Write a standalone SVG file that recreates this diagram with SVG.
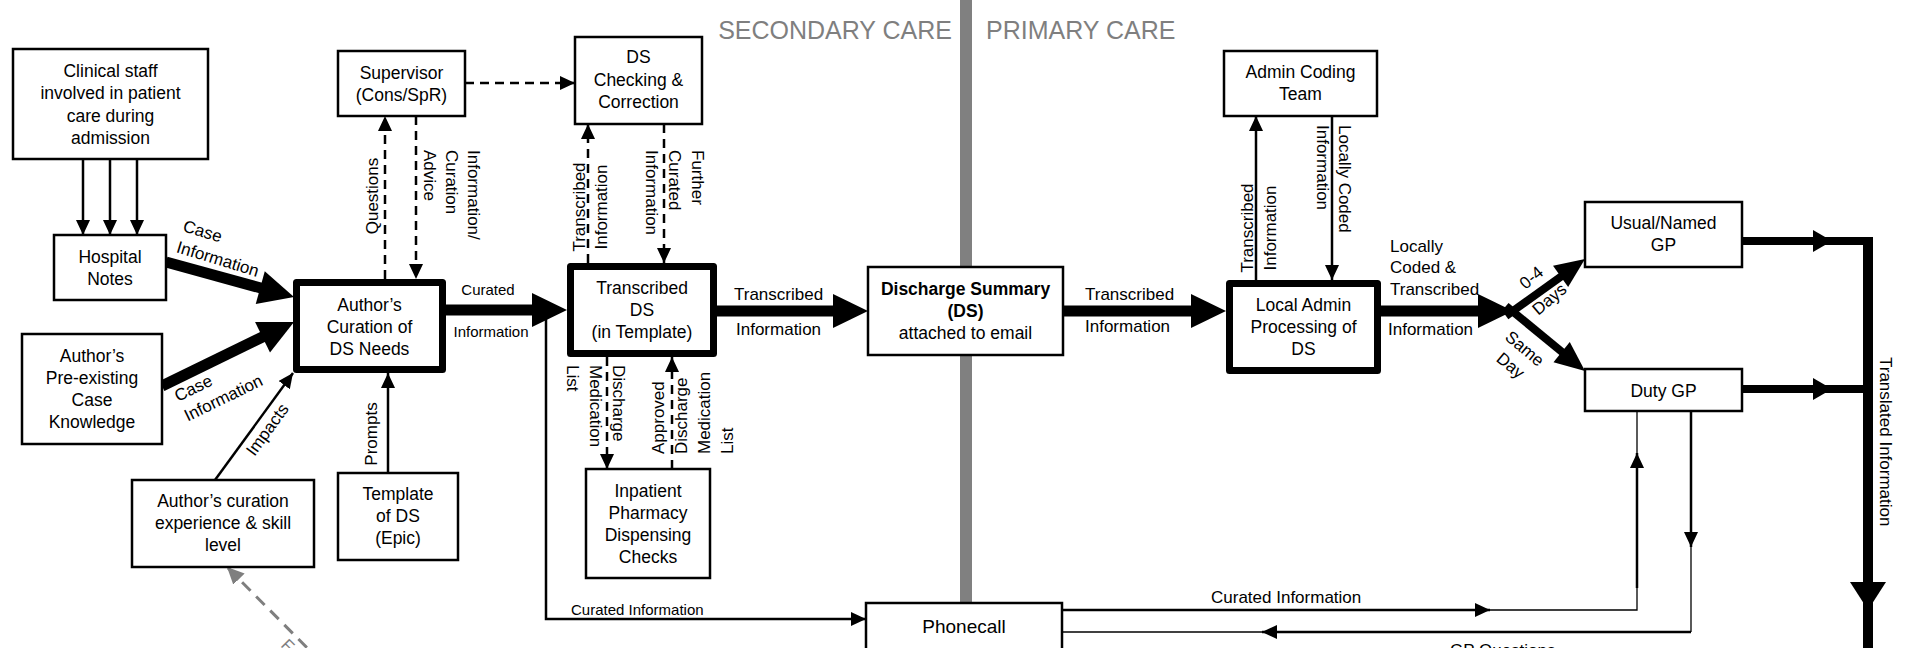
<svg xmlns="http://www.w3.org/2000/svg" xmlns:xlink="http://www.w3.org/1999/xlink" width="1921" height="648" viewBox="0 0 1921 648">
<style>
text{font-family:"Liberation Sans",Arial,sans-serif;fill:#000}
.box{fill:#fff;stroke:#000;stroke-width:2.5}
.tbox{fill:#fff;stroke:#000;stroke-width:7;stroke-linejoin:round}
.t{font-size:17.5px;text-anchor:middle}
.lbl{font-size:17px}
.mid{text-anchor:middle}
.sm{font-size:15px}
.thin{stroke:#000;stroke-width:2.5;fill:none}
.hair{stroke:#000;stroke-width:1.3;fill:none}
.dash{stroke:#000;stroke-width:2.5;fill:none;stroke-dasharray:9 6}
.thick{stroke:#000;stroke-width:11;fill:none}
.med{stroke:#000;stroke-width:8;fill:none}
.title{font-size:25px;fill:#7f7f7f}
</style>
<defs>
<marker id="ah" markerUnits="userSpaceOnUse" markerWidth="16" markerHeight="14" refX="15" refY="7" orient="auto"><path d="M0,0 L15,7 L0,14 Z" fill="#000"/></marker>
<marker id="ahg" markerUnits="userSpaceOnUse" markerWidth="18" markerHeight="16" refX="17" refY="8" orient="auto"><path d="M0,0 L17,8 L0,16 Z" fill="#7f7f7f"/></marker>
<path id="big" d="M0,0 L-35,-17 L-35,17 Z"/>
<path id="medh" d="M0,0 L-30,-13 L-30,13 Z"/>
<path id="smh" d="M0,0 L-19,-11 L-19,11 Z"/>
<path id="dnh" d="M0,0 L-28,-18 L-28,18 Z"/>
</defs>

<g id="divider">
<rect x="960" y="0" width="12" height="267" fill="#808080"/>
<rect x="960" y="355" width="12" height="248" fill="#808080"/>
<text class="title" x="952" y="39" text-anchor="end">SECONDARY CARE</text>
<text class="title" x="986" y="39">PRIMARY CARE</text>
</g>

<g id="connectors">
<line class="thin" x1="83" y1="159" x2="83" y2="235" marker-end="url(#ah)"/>
<line class="thin" x1="110" y1="159" x2="110" y2="235" marker-end="url(#ah)"/>
<line class="thin" x1="137" y1="159" x2="137" y2="235" marker-end="url(#ah)"/>

<line class="thick" x1="166" y1="262" x2="279" y2="293"/>
<use xlink:href="#big" transform="translate(294,297) rotate(15.4)"/>
<g transform="translate(182,231) rotate(17)"><text class="lbl"><tspan x="0" y="0">Case</tspan><tspan x="0" y="22">Information</tspan></text></g>

<line class="thick" x1="162" y1="386" x2="280" y2="328.5"/>
<use xlink:href="#big" transform="translate(294,322) rotate(-26)"/>
<g transform="translate(178,402) rotate(-26)"><text class="lbl"><tspan x="0" y="0">Case</tspan><tspan x="0" y="22">Information</tspan></text></g>

<line class="thin" x1="215" y1="480" x2="293" y2="373" stroke-width="2" marker-end="url(#ah)"/>
<g transform="translate(272,433) rotate(-54)"><text class="lbl mid" x="0" y="0">Impacts</text></g>

<line class="thin" x1="388" y1="473" x2="388" y2="373" marker-end="url(#ah)"/>
<g transform="translate(377,434) rotate(-90)"><text class="lbl mid" x="0" y="0">Prompts</text></g>

<line x1="335" y1="676" x2="227" y2="567" stroke="#7f7f7f" stroke-width="3" stroke-dasharray="12 8" marker-end="url(#ahg)"/>
<g transform="translate(280,646) rotate(45)"><text class="lbl" x="0" y="0" style="fill:#7f7f7f">Fo</text></g>

<line class="dash" x1="385" y1="279" x2="385" y2="116" marker-end="url(#ah)"/>
<g transform="translate(378,196) rotate(-90)"><text class="lbl mid" x="0" y="0">Questions</text></g>
<line class="dash" x1="416" y1="116" x2="416" y2="279" marker-end="url(#ah)"/>
<g transform="translate(468,150) rotate(90)"><text class="lbl"><tspan x="0" y="0">Information/</tspan><tspan x="0" y="22">Curation</tspan><tspan x="0" y="44">Advice</tspan></text></g>
<line class="dash" x1="465" y1="83" x2="575" y2="83" marker-end="url(#ah)"/>

<line class="thick" x1="446" y1="310" x2="552" y2="310"/>
<use xlink:href="#big" transform="translate(567,310)"/>
<text class="sm mid" x="488" y="295">Curated</text>
<text class="sm mid" x="491" y="337">Information</text>

<path class="thin" d="M546,316 V619 H866" stroke-width="1.6" marker-end="url(#ah)"/>
<text class="sm" x="571" y="615">Curated Information</text>

<line class="dash" x1="588" y1="263" x2="588" y2="124" marker-end="url(#ah)"/>
<g transform="translate(585,207) rotate(-90)"><text class="lbl mid"><tspan x="0" y="0">Transcribed</tspan><tspan x="0" y="22">Information</tspan></text></g>
<line class="dash" x1="664" y1="124" x2="664" y2="263" marker-end="url(#ah)"/>
<g transform="translate(692,150) rotate(90)"><text class="lbl"><tspan x="0" y="0">Further</tspan><tspan x="0" y="23">Curated</tspan><tspan x="0" y="46">Information</tspan></text></g>

<line class="dash" x1="607" y1="357" x2="607" y2="469" marker-end="url(#ah)"/>
<g transform="translate(613,365) rotate(90)"><text class="lbl"><tspan x="0" y="0">Discharge</tspan><tspan x="0" y="23">Medication</tspan><tspan x="0" y="46">List</tspan></text></g>
<line class="dash" x1="672" y1="469" x2="672" y2="357" marker-end="url(#ah)"/>
<g transform="translate(664,454) rotate(-90)"><text class="lbl"><tspan x="0" y="0">Approved</tspan><tspan x="0" y="23">Discharge</tspan><tspan x="0" y="46">Medication</tspan><tspan x="0" y="69">List</tspan></text></g>

<line class="thick" x1="717" y1="311" x2="853" y2="311"/>
<use xlink:href="#big" transform="translate(868,311)"/>
<text class="lbl" x="734" y="300">Transcribed</text>
<text class="lbl" x="736" y="335">Information</text>

<line class="thick" x1="1063" y1="311" x2="1211" y2="311"/>
<use xlink:href="#big" transform="translate(1226,311)"/>
<text class="lbl" x="1085" y="300">Transcribed</text>
<text class="lbl" x="1085" y="332">Information</text>

<line class="thin" x1="1256" y1="280" x2="1256" y2="116" marker-end="url(#ah)"/>
<g transform="translate(1253,228) rotate(-90)"><text class="lbl mid"><tspan x="0" y="0">Transcribed</tspan><tspan x="0" y="23">Information</tspan></text></g>
<line class="thin" x1="1332" y1="116" x2="1332" y2="280" marker-end="url(#ah)"/>
<g transform="translate(1339,125) rotate(90)"><text class="lbl"><tspan x="0" y="0">Locally Coded</tspan><tspan x="0" y="22">Information</tspan></text></g>

<line class="thick" x1="1381" y1="311" x2="1498" y2="311"/>
<use xlink:href="#big" transform="translate(1513,311)"/>
<text class="lbl"><tspan x="1390" y="252">Locally</tspan><tspan x="1390" y="273">Coded &amp;</tspan><tspan x="1390" y="295">Transcribed</tspan></text>
<text class="lbl" x="1388" y="335">Information</text>

<line class="med" x1="1506" y1="316" x2="1573" y2="268"/>
<use xlink:href="#medh" transform="translate(1585,259) rotate(-35.5)"/>
<g transform="translate(1535,282) rotate(-40)"><text class="lbl mid"><tspan x="0" y="0">0-4</tspan><tspan x="0" y="28">Days</tspan></text></g>
<line class="med" x1="1506" y1="306" x2="1573" y2="361"/>
<use xlink:href="#medh" transform="translate(1585,371) rotate(38.8)"/>
<g transform="translate(1521,353) rotate(40)"><text class="lbl mid"><tspan x="0" y="0">Same</tspan><tspan x="0" y="22">Day</tspan></text></g>

<line class="med" x1="1742" y1="241" x2="1873" y2="241"/>
<use xlink:href="#smh" transform="translate(1832,241)"/>
<line class="med" x1="1742" y1="389" x2="1868" y2="389"/>
<use xlink:href="#smh" transform="translate(1832,389)"/>
<line x1="1868" y1="237" x2="1868" y2="648" stroke="#000" stroke-width="10"/>
<use xlink:href="#dnh" transform="translate(1868,610) rotate(90)"/>
<g transform="translate(1880,357) rotate(90)"><text class="lbl" x="0" y="0">Translated Information</text></g>

<line class="thin" x1="1062" y1="610" x2="1490" y2="610" stroke-width="2" marker-end="url(#ah)"/>
<path class="hair" d="M1490,610 H1637 V588"/>
<line class="thin" x1="1637" y1="588" x2="1637" y2="453" stroke-width="2" marker-end="url(#ah)"/>
<line class="hair" x1="1637" y1="453" x2="1637" y2="411"/>
<text class="lbl" x="1211" y="603">Curated Information</text>

<line class="thin" x1="1691" y1="411" x2="1691" y2="547" stroke-width="2" marker-end="url(#ah)"/>
<path class="hair" d="M1691,547 V632"/>
<line class="thin" x1="1691" y1="632" x2="1262" y2="632" stroke-width="2" marker-end="url(#ah)"/>
<line class="hair" x1="1262" y1="632" x2="1062" y2="632"/>
<text class="lbl" x="1450" y="656">GP Questions</text>
</g>

<g id="n-clinical"><rect class="box" x="13" y="49" width="195" height="110"/><text class="t"><tspan x="110.5" y="77">Clinical staff</tspan><tspan x="110.5" y="99">involved in patient</tspan><tspan x="110.5" y="122">care during</tspan><tspan x="110.5" y="144">admission</tspan></text></g>
<g id="n-hospital"><rect class="box" x="54" y="235" width="112" height="65"/><text class="t"><tspan x="110" y="263">Hospital</tspan><tspan x="110" y="285">Notes</tspan></text></g>
<g id="n-preexisting"><rect class="box" x="22" y="334" width="140" height="110"/><text class="t"><tspan x="92" y="362">Author’s</tspan><tspan x="92" y="384">Pre-existing</tspan><tspan x="92" y="406">Case</tspan><tspan x="92" y="428">Knowledge</tspan></text></g>
<g id="n-experience"><rect class="box" x="132" y="480" width="182" height="87"/><text class="t"><tspan x="223" y="507">Author’s curation</tspan><tspan x="223" y="529">experience &amp; skill</tspan><tspan x="223" y="551">level</tspan></text></g>
<g id="n-template"><rect class="box" x="338" y="473" width="120" height="87"/><text class="t"><tspan x="398" y="500">Template</tspan><tspan x="398" y="522">of DS</tspan><tspan x="398" y="544">(Epic)</tspan></text></g>
<g id="n-supervisor"><rect class="box" x="338" y="51" width="127" height="65"/><text class="t"><tspan x="401.5" y="79">Supervisor</tspan><tspan x="401.5" y="101">(Cons/SpR)</tspan></text></g>
<g id="n-curation"><rect class="tbox" x="296.5" y="282.5" width="146" height="87"/><text class="t"><tspan x="369.5" y="311">Author’s</tspan><tspan x="369.5" y="333">Curation of</tspan><tspan x="369.5" y="355">DS Needs</tspan></text></g>
<g id="n-dscheck"><rect class="box" x="575" y="37" width="127" height="87"/><text class="t"><tspan x="638.5" y="63">DS</tspan><tspan x="638.5" y="86">Checking &amp;</tspan><tspan x="638.5" y="108">Correction</tspan></text></g>
<g id="n-transcribed"><rect class="tbox" x="570.5" y="266.5" width="143" height="87"/><text class="t"><tspan x="642" y="294">Transcribed</tspan><tspan x="642" y="316">DS</tspan><tspan x="642" y="338">(in Template)</tspan></text></g>
<g id="n-pharmacy"><rect class="box" x="586" y="469" width="124" height="109"/><text class="t"><tspan x="648" y="497">Inpatient</tspan><tspan x="648" y="519">Pharmacy</tspan><tspan x="648" y="541">Dispensing</tspan><tspan x="648" y="563">Checks</tspan></text></g>
<g id="n-discharge"><rect class="box" x="868" y="267" width="195" height="88"/><text class="t"><tspan x="965.5" y="295" font-weight="bold">Discharge Summary</tspan><tspan x="965.5" y="317" font-weight="bold">(DS)</tspan><tspan x="965.5" y="339">attached to email</tspan></text></g>
<g id="n-phonecall"><rect class="box" x="866" y="603" width="196" height="60"/><text class="t" x="964" y="633" style="font-size:19px">Phonecall</text></g>
<g id="n-admincoding"><rect class="box" x="1224" y="51" width="153" height="65"/><text class="t"><tspan x="1300.5" y="78">Admin Coding</tspan><tspan x="1300.5" y="100">Team</tspan></text></g>
<g id="n-localadmin"><rect class="tbox" x="1229.5" y="283.5" width="148" height="87"/><text class="t"><tspan x="1303.5" y="311">Local Admin</tspan><tspan x="1303.5" y="333">Processing of</tspan><tspan x="1303.5" y="355">DS</tspan></text></g>
<g id="n-usualgp"><rect class="box" x="1585" y="202" width="157" height="65"/><text class="t"><tspan x="1663.5" y="229">Usual/Named</tspan><tspan x="1663.5" y="251">GP</tspan></text></g>
<g id="n-dutygp"><rect class="box" x="1585" y="369" width="157" height="42"/><text class="t" x="1663.5" y="397">Duty GP</text></g>
</svg>
